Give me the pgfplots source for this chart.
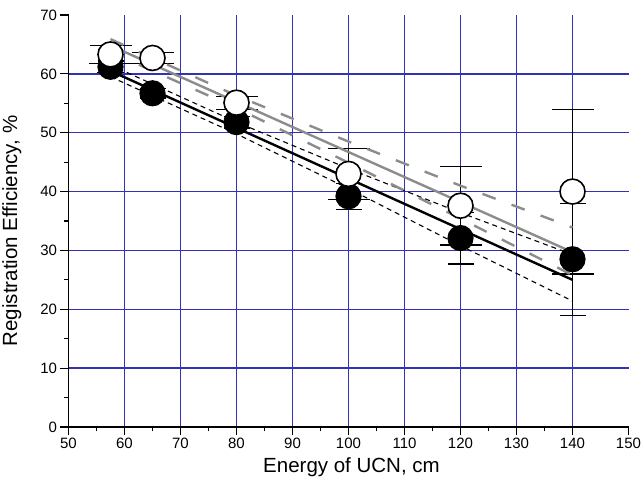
\documentclass[border=0pt]{standalone}
\usepackage{pgfplots}
\pgfplotsset{compat=1.18}
\usepackage{fontspec}
\setmainfont{Liberation Sans}
\definecolor{gridblue}{RGB}{50,50,180}
\definecolor{fitgray}{RGB}{140,140,140}
\begin{document}
\begin{tikzpicture}
\begin{axis}[
  name=ax,
  scale only axis, width=560bp, height=412bp,
  xmin=50, xmax=150, ymin=0, ymax=70,
  axis x line*=bottom, axis y line*=left,
  xtick={50,60,...,140}, ytick={0,10,...,60},
  extra x ticks={150}, extra y ticks={70},
  extra tick style={grid=none},
  minor x tick num=1, minor y tick num=1,
  grid=major,
  major grid style={draw=gridblue, line width=1.3bp},
  tick align=outside,
  major tick length=8bp, minor tick length=4bp,
  every tick/.style={black, line width=1.1bp},
  axis line style={black, line width=1.2bp},
  tick label style={font=\fontsize{15bp}{18bp}\selectfont},
  /pgf/number format/assume math mode=true,
  clip=false,
]
% filled circles
\addplot[only marks, mark=*, mark size=12.5bp, mark options={fill=black, draw=black, line width=1.2bp},
  error bars/.cd, y dir=both, y explicit,
  error bar style={black, line width=1.3bp},
  error mark options={rotate=90, mark size=13bp, line width=1.3bp}]
coordinates {
(57.5,61.2) +- (0,1.0)
(65,56.7) +- (0,0.8)
(80,51.8) +- (0,1.0)
(100,39.2) +- (0,2.2)
(120,32.1) +- (0,4.4)
(140,28.5) +- (0,9.5)
};
% open circles
\addplot[only marks, mark=*, mark size=12.5bp, mark options={fill=white, draw=black, line width=1.6bp},
  error bars/.cd, y dir=both, y explicit,
  error bar style={black, line width=1.3bp},
  error mark options={rotate=90, mark size=21bp, line width=1.3bp}]
coordinates {
(57.5,63.3) +- (0,1.5)
(65,62.7) +- (0,0.9)
(80,55.1) +- (0,1.1)
(100,43.0) +- (0,4.3)
(120,37.6) +- (0,6.7)
(140,40.0) +- (0,14.0)
};
% black fit and band
\addplot[black, line width=2.4bp] coordinates {(57.5,60.5) (140,25.0)};
\addplot[black, line width=1.1bp, dash pattern=on 5bp off 4bp] coordinates {(57.5,61.5) (80,51.8) (100,43.9) (120,36.4) (140,29.3)};
\addplot[black, line width=1.1bp, dash pattern=on 5bp off 4bp] coordinates {(57.5,59.5) (80,49.8) (100,40.5) (120,30.8) (140,21.4)};
% gray fit and band
\addplot[fitgray, line width=2.4bp] coordinates {(57.5,64.8) (140,29.7)};
\addplot[fitgray, line width=2.4bp, dash pattern=on 14bp off 17bp] coordinates {(57.5,65.9) (80,56.3) (100,48.5) (120,41.0) (140,33.9)};
\addplot[fitgray, line width=2.4bp, dash pattern=on 14bp off 17bp] coordinates {(57.5,63.7) (80,54.2) (100,44.9) (120,35.4) (140,25.8)};
\end{axis}
\node[rotate=90, anchor=south, inner sep=0pt, font=\fontsize{20.5bp}{24bp}\selectfont] at ([xshift=-47bp, yshift=-10bp]ax.west) {Registration Efficiency, \%};
\node[anchor=north, inner sep=0pt, font=\fontsize{20.5bp}{24bp}\selectfont] at ([yshift=-30bp, xshift=3bp]ax.south) {Energy of UCN, cm};
\pgfresetboundingbox
\path[use as bounding box] ([shift={(-68.5bp,-63bp)}]ax.south west) rectangle ([shift={(13.5bp,15bp)}]ax.north east);
\end{tikzpicture}
\end{document}
